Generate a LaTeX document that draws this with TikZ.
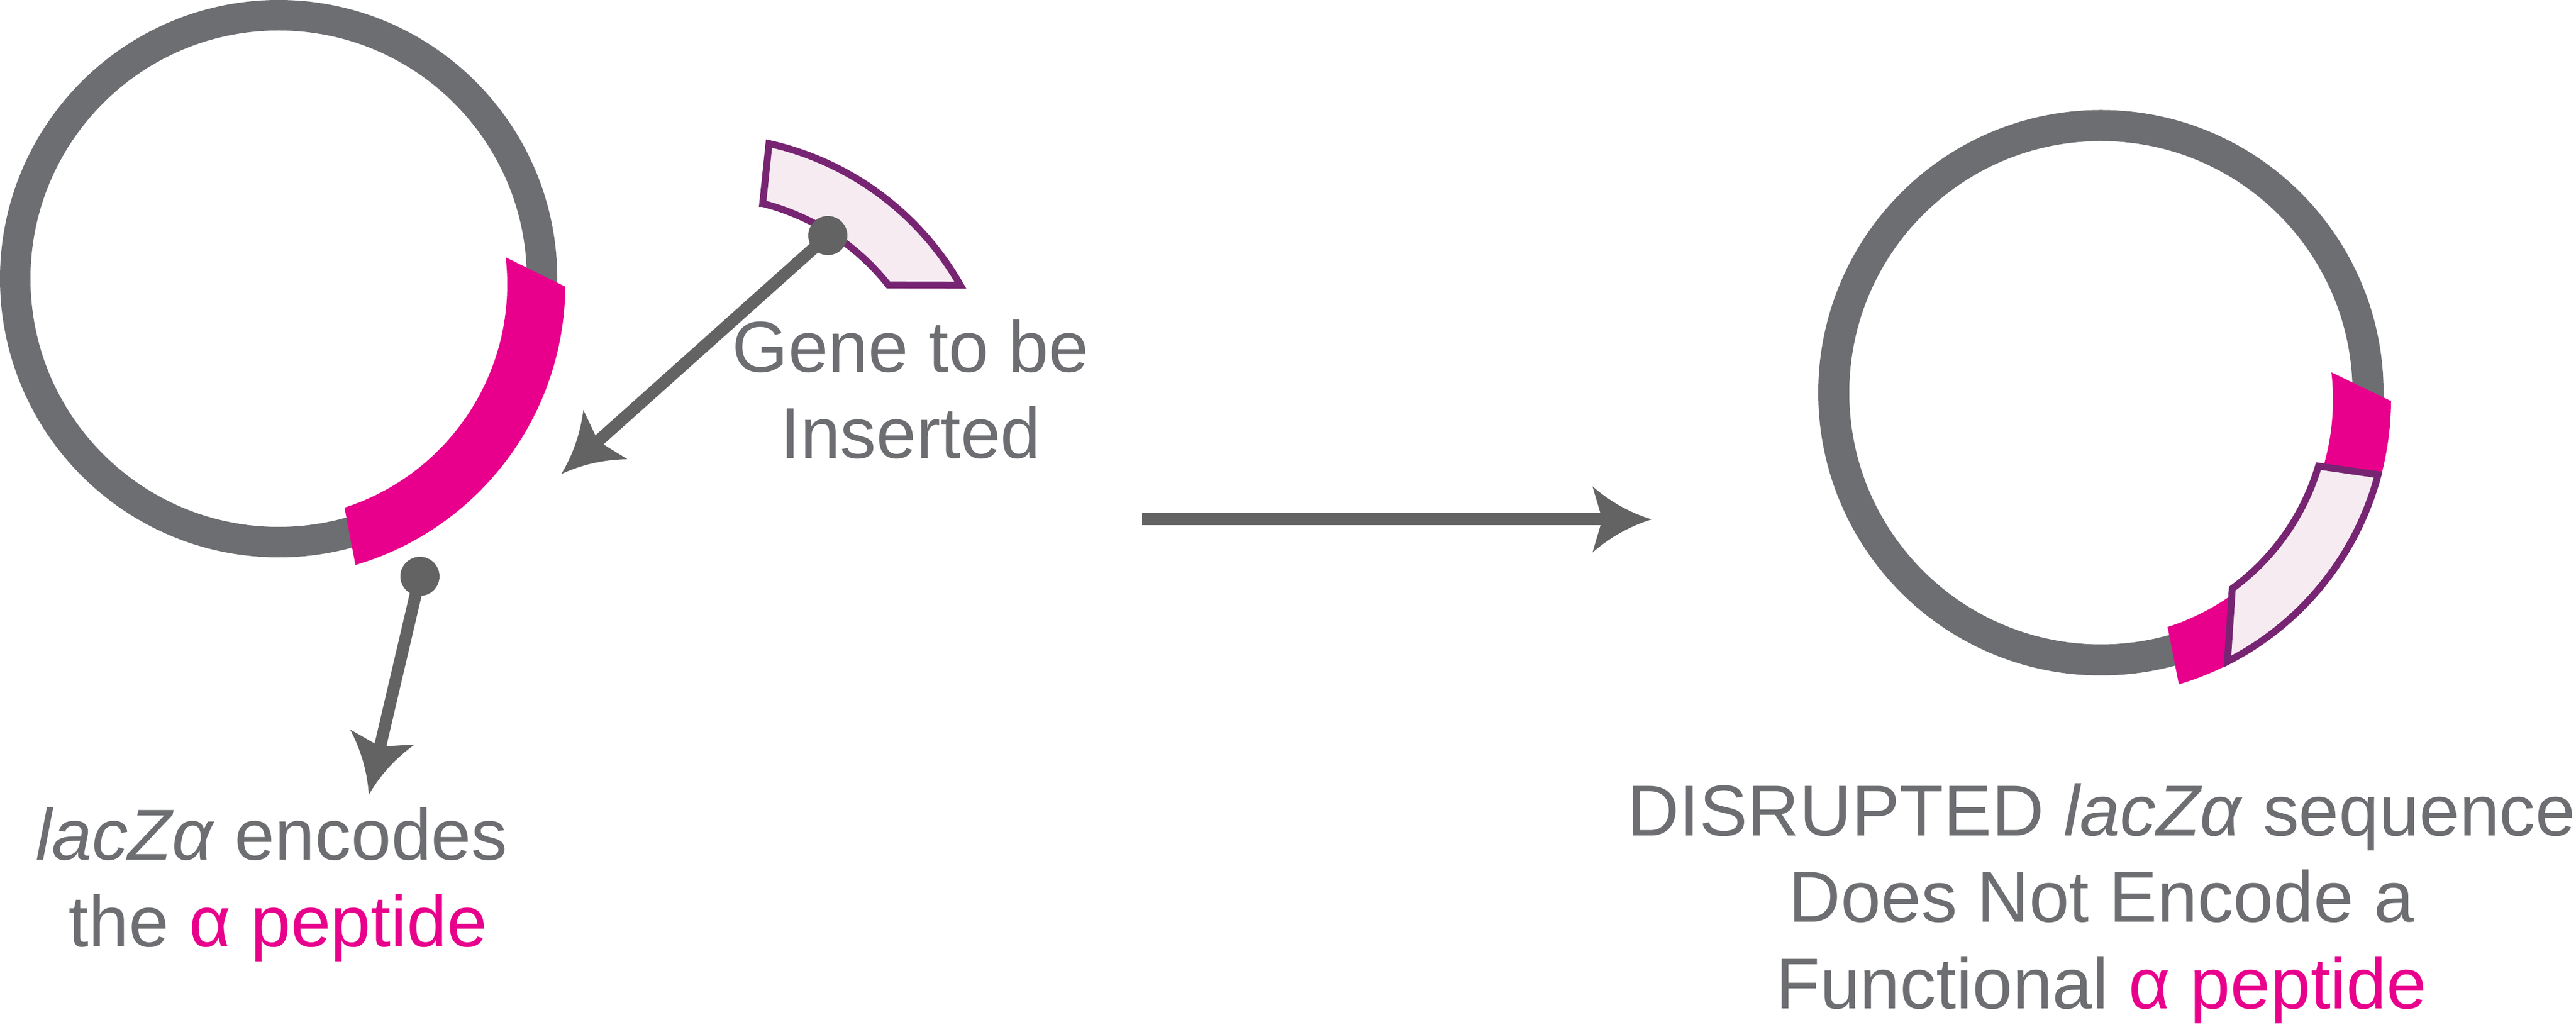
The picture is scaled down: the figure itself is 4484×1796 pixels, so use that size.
\documentclass[tikz,border=0pt]{standalone}
\usepackage{fontspec}
\setmainfont{Liberation Sans}
\usetikzlibrary{arrows.meta,calc}
\newdimen\arrowbackx
\pgfdeclarearrow{
  name = ConcaveStealth,
  parameters = {\the\pgfarrowlength,\the\pgfarrowwidth,\the\pgfarrowinset},
  setup code = {
    \pgfarrowssettipend{0pt}
    \pgfarrowssetbackend{-\pgfarrowlength}
    \pgfarrowssetlineend{-0.7\pgfarrowlength}
    \pgfarrowshullpoint{0pt}{0pt}
    \pgfarrowsupperhullpoint{-\pgfarrowlength}{.5\pgfarrowwidth}
    \pgfarrowssavethe\pgfarrowlength
    \pgfarrowssavethe\pgfarrowwidth
    \pgfarrowssavethe\pgfarrowinset
  },
  drawing code = {
    \arrowbackx=\pgfarrowinset
    \advance\arrowbackx by -\pgfarrowlength
    \pgfpathmoveto{\pgfqpoint{0pt}{0pt}}
    \pgfpathcurveto{\pgfqpoint{-.367\pgfarrowlength}{.1\pgfarrowwidth}}{\pgfqpoint{-.7\pgfarrowlength}{.267\pgfarrowwidth}}{\pgfqpoint{-\pgfarrowlength}{.5\pgfarrowwidth}}
    \pgfpathlineto{\pgfqpoint{\arrowbackx}{0pt}}
    \pgfpathlineto{\pgfqpoint{-\pgfarrowlength}{-.5\pgfarrowwidth}}
    \pgfpathcurveto{\pgfqpoint{-.7\pgfarrowlength}{-.267\pgfarrowwidth}}{\pgfqpoint{-.367\pgfarrowlength}{-.1\pgfarrowwidth}}{\pgfqpoint{0pt}{0pt}}
    \pgfpathclose
    \pgfusepathqfill
  },
  defaults = {length=20.6pt, width=23pt, inset=3.4pt}
}
\definecolor{ringgray}{HTML}{6D6E71}
\definecolor{arrowgray}{HTML}{636363}
\definecolor{pinkc}{HTML}{E8008C}
\definecolor{purplec}{HTML}{772572}
\definecolor{insertfill}{HTML}{F5EBF1}
\definecolor{textgray}{HTML}{6D6E71}
\tikzset{
  ring/.style={draw=ringgray},
  insertpiece/.style={draw=purplec, fill=insertfill, line width=2.4pt, line join=miter},
  dotnode/.style={circle, fill=arrowgray, inner sep=0pt, minimum size=13.6pt},
  conn/.style={draw=arrowgray, line width=4.2pt, -{ConcaveStealth[length=20.6pt,width=23pt,inset=3.4pt]}},
  lbl/.style={text=textgray, font=\fontsize{25.1pt}{30pt}\selectfont, inner sep=0pt, anchor=base}
}
\begin{document}
\begin{tikzpicture}[x=0.2pt,y=-0.2pt]
\useasboundingbox (0,0) rectangle (4484,1796);
% centres
\coordinate (cL) at (485,485);
\coordinate (pL) at (475,495);
\coordinate (cR) at (3657,683.5);
\coordinate (pR) at (3645,695.5);
\coordinate (gC) at (1227,749);

% plasmid rings
\draw[ring, line width=10.6pt] (cL) circle[radius=458.5];
\draw[ring, line width=10.8pt] (cR) circle[radius=465];

% lacZ alpha segment, left plasmid
\fill[pinkc] ($(pL)+(0.45:509)$) arc[start angle=0.45,end angle=73.6,radius=509]
  -- ($(pL)+(72.2:408)$) arc[start angle=72.2,end angle=-6.64,radius=408] -- cycle;

% disrupted lacZ alpha, right plasmid
\fill[pinkc] ($(pR)+(0.28:517)$) arc[start angle=0.28,end angle=14.5,radius=517]
  -- ($(pR)+(15.5:416)$) arc[start angle=15.5,end angle=-6.56,radius=416] -- cycle;
\fill[pinkc] ($(pR)+(73.4:517)$) arc[start angle=73.4,end angle=60,radius=517]
  -- ($(pR)+(55:416)$) arc[start angle=55,end angle=72.07,radius=416] -- cycle;

% inserted gene, right plasmid
\draw[insertpiece] ($(pR)+(16.5:407.5)$) -- ($(pR)+(14.8:511.5)$)
  arc[start angle=14.8,end angle=63,radius=511.5]
  -- ($(pR)+(53.8:407.5)$) arc[start angle=53.8,end angle=16.5,radius=407.5] -- cycle;

% gene to be inserted
\draw[insertpiece] ($(gC)+(-75.7:407.5)$) -- ($(gC)+(-77.4:511.5)$)
  arc[start angle=-77.4,end angle=-29.6,radius=511.5]
  -- ($(gC)+(-38.4:407.5)$) arc[start angle=-38.4,end angle=-75.7,radius=407.5] -- cycle;

% connectors
\node[dotnode] (dG) at (1441,410) {};
\node[dotnode] (dL) at (731,1003) {};
\coordinate (tG) at (977,825);
\coordinate (tL) at (642,1383);
\coordinate (m0) at (1988,904);
\coordinate (m1) at (2875,904);
\draw[conn] (dG.center) -- (tG);
\draw[conn] (dL.center) -- (tL);
\draw[conn] (m0) -- (m1);

% labels
\node[lbl] (gene1) at (1585,648) {Gene to be};
\node[lbl] (gene2) at (1585,798) {Inserted};
\node[lbl] (lac1) at (473,1497) {\textit{lacZα} encodes};
\node[lbl] (lac2) at (484,1647) {the \textcolor{pinkc}{α peptide}};
\node[lbl] (dis1) at (3658,1455) {DISRUPTED \textit{lacZα} sequence};
\node[lbl] (dis2) at (3658,1605) {Does Not Encode a};
\node[lbl] (dis3) at (3658,1755) {Functional \textcolor{pinkc}{α peptide}};
\end{tikzpicture}
\end{document}
